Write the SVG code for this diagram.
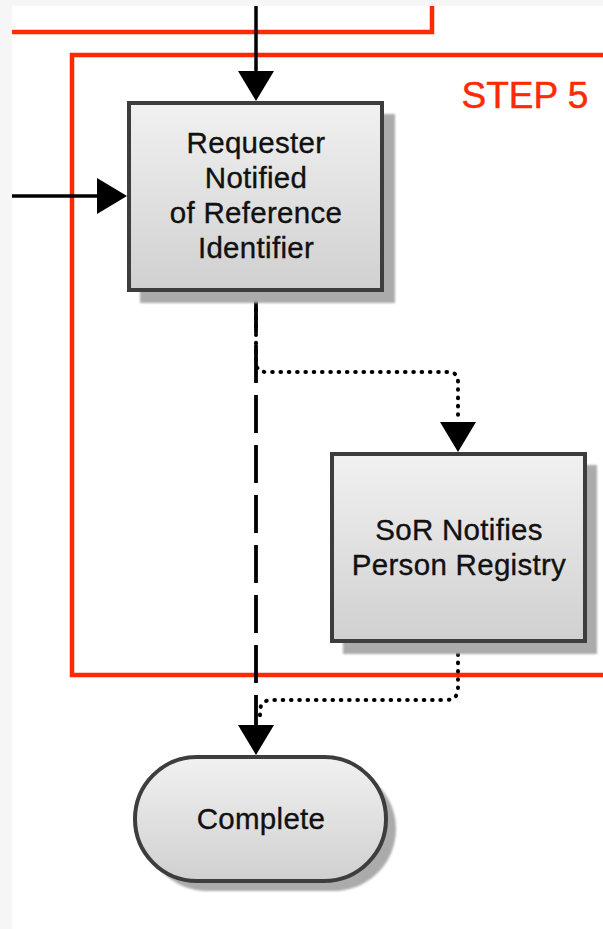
<svg xmlns="http://www.w3.org/2000/svg" width="603" height="929" viewBox="0 0 603 929">
  <defs>
    <linearGradient id="fillGrad" x1="0" y1="0" x2="0" y2="1">
      <stop offset="0" stop-color="#f1f1f1"/>
      <stop offset="1" stop-color="#d0d0d0"/>
    </linearGradient>
    <filter id="soft" x="-10%" y="-10%" width="120%" height="120%">
      <feGaussianBlur stdDeviation="1.2"/>
    </filter>
  </defs>
  <style>
    .red { fill: none; stroke: #fe2a02; stroke-width: 4.5; stroke-linejoin: miter; }
    .shadow { fill: #ababab; filter: url(#soft); }
    .box { fill: url(#fillGrad); stroke: #3d3d3d; stroke-width: 4; }
    .lbl { font-family: "Liberation Sans", Arial, sans-serif; font-size: 29.5px; fill: #111; stroke: #111; stroke-width: 0.35; text-anchor: middle; letter-spacing: 0.3px; }
    .step { font-family: "Liberation Sans", Arial, sans-serif; font-size: 37px; fill: #fe2a02; stroke: #fe2a02; stroke-width: 0.5; text-anchor: middle; }
    .solid { fill: none; stroke: #000; stroke-width: 3.5; }
    .dashed { fill: none; stroke: #000; stroke-width: 3.8; stroke-dasharray: 38 12; }
    .dotted { fill: none; stroke: #000; stroke-width: 4; stroke-linecap: round; stroke-dasharray: 0.6 7.7; }
    .head { fill: #000; }
  </style>

  <rect x="0" y="0" width="603" height="929" fill="#f6f6f6"/>
  <rect x="12" y="6" width="591" height="923" fill="#ffffff"/>

  <g id="step4-frame">
    <path class="red" d="M12 32 H432 V6"/>
  </g>
  <g id="step5-frame">
    <path class="red" d="M603 55 H72 V675 H603"/>
    <text class="step" x="525" y="108">STEP 5</text>
  </g>

  <g id="connectors">
    <path class="solid" d="M256 6 V72"/>
    <polygon class="head" points="238,71 274,71 256,101"/>
    <path class="solid" d="M12 196 H99"/>
    <polygon class="head" points="97,178 97,214 127,196"/>
    <path class="dotted" d="M256 293 V362 Q256 372 266 372 H448 Q458 372 458 382 V420"/>
    <polygon class="head" points="440,422 476,422 458,452"/>
    <path class="dashed" d="M256 295 V726"/>
    <path class="dotted" d="M458 646 V688 Q458 700 446 700 H272 Q260 700 260 712 V722"/>
    <polygon class="head" points="238,725 274,725 256,755"/>
  </g>

  <g id="requester-notified">
    <rect class="shadow" x="140" y="114" width="255" height="189"/>
    <rect class="box" x="129" y="103" width="253" height="187"/>
    <text class="lbl" x="256" y="153">Requester</text>
    <text class="lbl" x="256" y="188">Notified</text>
    <text class="lbl" x="256" y="223">of Reference</text>
    <text class="lbl" x="256" y="258">Identifier</text>
  </g>

  <g id="sor-notifies">
    <rect class="shadow" x="343" y="465" width="254" height="189"/>
    <rect class="box" x="332" y="454" width="253" height="187"/>
    <text class="lbl" x="459" y="540">SoR Notifies</text>
    <text class="lbl" x="459" y="575">Person Registry</text>
  </g>

  <g id="complete">
    <rect class="shadow" x="145" y="767" width="251" height="124" rx="62" ry="62"/>
    <rect class="box" x="135" y="757" width="251" height="124" rx="62" ry="62"/>
    <text class="lbl" x="261" y="829">Complete</text>
  </g>
</svg>
